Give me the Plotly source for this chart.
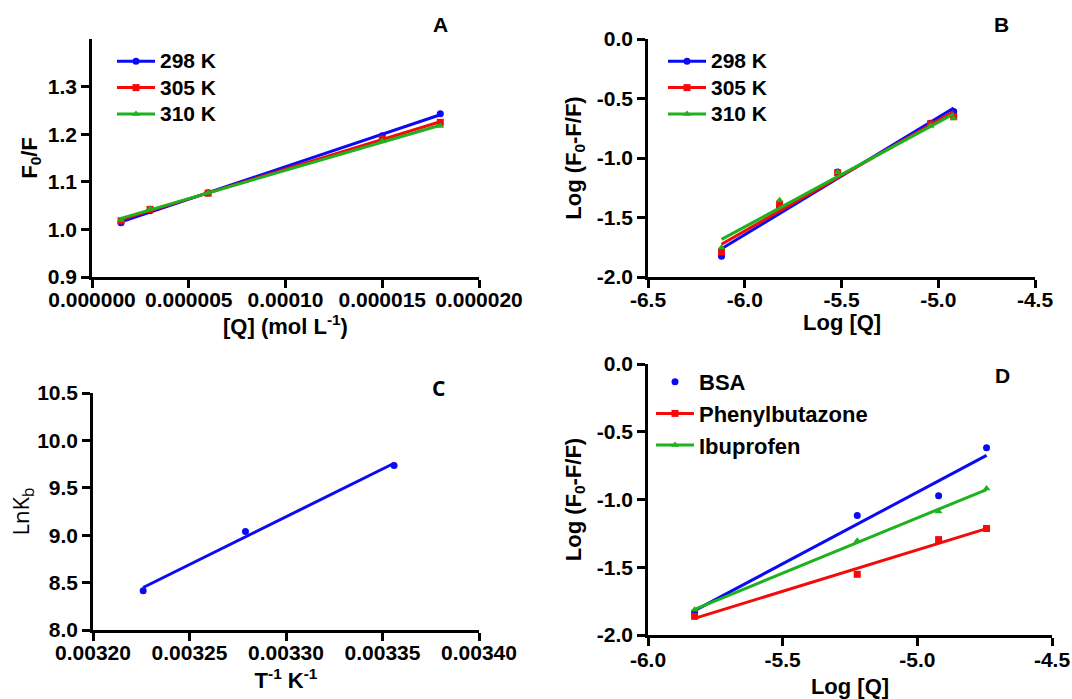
import numpy as np
import plotly.graph_objects as go

# ---------------- data ----------------
# Panel A: Stern-Volmer
A_conc = [1.5e-6, 3.0e-6, 6.0e-6, 1.5e-5, 1.8e-5]
A_298 = [1.014, 1.039, 1.077, 1.197, 1.243]
A_305 = [1.018, 1.042, 1.076, 1.190, 1.225]
A_310 = [1.020, 1.044, 1.077, 1.185, 1.217]

# Panel B: double log plot
B_logQ = [-6.12, -5.82, -5.52, -5.04, -4.92]
B_298 = [-1.826, -1.416, -1.118, -0.708, -0.610]
B_305 = [-1.790, -1.388, -1.124, -0.713, -0.652]
B_310 = [-1.753, -1.354, -1.120, -0.730, -0.669]

# Panel C: van't Hoff
C_invT = [0.003226, 0.003279, 0.003356]
C_lnKb = [8.415, 9.039, 9.736]

# Panel D: site markers
D_logQ = [-5.827, -5.223, -4.921, -4.743]
D_BSA = [-1.830, -1.118, -0.973, -0.618]
D_PBZ = [-1.862, -1.552, -1.296, -1.214]
D_IBU = [-1.813, -1.305, -1.089, -0.919]

temps = ["298 K", "305 K", "310 K"]
D_names = ["BSA", "Phenylbutazone", "Ibuprofen"]

A_xticks = [0, 5e-6, 1e-5, 1.5e-5, 2e-5]
A_xtext = ["0.000000", "0.000005", "0.00010", "0.000015", "0.000020"]
A_yticks = [0.9, 1.0, 1.1, 1.2, 1.3]
A_ytext = ["0.9", "1.0", "1.1", "1.2", "1.3"]
B_xticks = [-6.5, -6.0, -5.5, -5.0, -4.5]
B_xtext = ["-6.5", "-6.0", "-5.5", "-5.0", "-4.5"]
LOG_yticks = [0.0, -0.5, -1.0, -1.5, -2.0]
LOG_ytext = ["0.0", "-0.5", "-1.0", "-1.5", "-2.0"]
C_xticks = [0.00320, 0.00325, 0.00330, 0.00335, 0.00340]
C_xtext = ["0.00320", "0.00325", "0.00330", "0.00335", "0.00340"]
C_yticks = [8.0, 8.5, 9.0, 9.5, 10.0, 10.5]
C_ytext = ["8.0", "8.5", "9.0", "9.5", "10.0", "10.5"]
D_xticks = [-6.0, -5.5, -5.0, -4.5]
D_xtext = ["-6.0", "-5.5", "-5.0", "-4.5"]

# ---------------- style ----------------
BLUE, RED, GREEN = "#0a0af5", "#f50a0a", "#1fb21f"
COLORS = [BLUE, RED, GREEN]
SYMBOLS = ["circle", "square", "triangle-up"]
FONT = "Liberation Sans, Arial, sans-serif"
W, H = 1072, 699


def px_x(x):
    return x / W


def px_y(y):
    return 1 - y / H


fig = go.Figure()


def add_series(xs, ys, color, symbol, name, xa, ya, legend, legend_mode="lines+markers", msize=7):
    xs = np.array(xs)
    ys = np.array(ys)
    k, b = np.polyfit(xs, ys, 1)
    xf = np.array([xs.min(), xs.max()])
    fig.add_trace(go.Scatter(x=xf, y=k * xf + b, mode="lines", xaxis=xa, yaxis=ya,
                             line=dict(color=color, width=3), showlegend=False, hoverinfo="skip"))
    fig.add_trace(go.Scatter(x=xs, y=ys, mode="markers", xaxis=xa, yaxis=ya,
                             marker=dict(color=color, symbol=symbol, size=msize),
                             showlegend=False, cliponaxis=False))
    if legend is not None:
        fig.add_trace(go.Scatter(x=[None], y=[None], mode=legend_mode, name=name, legend=legend,
                                 xaxis=xa, yaxis=ya,
                                 line=dict(color=color, width=3),
                                 marker=dict(color=color, symbol=symbol, size=msize)))


def big(t):
    return '<span style="font-size:21px">' + t + '</span>'


for s, ys in enumerate([A_298, A_305, A_310]):
    add_series(A_conc, ys, COLORS[s], SYMBOLS[s], big(temps[s]), "x", "y", "legend")
for s, ys in enumerate([B_298, B_305, B_310]):
    add_series(B_logQ, ys, COLORS[s], SYMBOLS[s], big(temps[s]), "x2", "y2", "legend2")
add_series(C_invT, C_lnKb, BLUE, "circle", "C", "x3", "y3", None)
add_series(D_logQ, D_BSA, BLUE, "circle", D_names[0], "x4", "y4", "legend3", legend_mode="markers")
add_series(D_logQ, D_PBZ, RED, "square", D_names[1], "x4", "y4", "legend3")
add_series(D_logQ, D_IBU, GREEN, "triangle-up", D_names[2], "x4", "y4", "legend3")

tickfont = dict(family=FONT, size=21, color="black", weight="bold")
titlefont = dict(family=FONT, size=22, color="black", weight="bold")


def axis(domain, rng, tv, tt, title, anchor, standoff, tfont=titlefont, lab_off=0):
    return dict(domain=domain, range=rng, tickvals=tv, ticktext=tt, anchor=anchor,
                automargin=False, ticklabelstandoff=lab_off,
                showline=True, linecolor="black", linewidth=2.5, ticks="outside",
                ticklen=8, tickwidth=2.5, tickcolor="black", showgrid=False, zeroline=False,
                tickfont=tickfont, title=dict(text=title, font=tfont, standoff=standoff))


fig.update_layout(
    width=W, height=H, margin=dict(l=0, r=0, t=0, b=0),
    plot_bgcolor="white", paper_bgcolor="white",
    xaxis=axis([px_x(92), px_x(479)], [0, 2e-5], A_xticks, A_xtext,
               "[Q] (mol L<sup>-1</sup>)", "y", 5, lab_off=-6),
    yaxis=axis([px_y(277), px_y(39)], [0.9, 1.4], A_yticks, A_ytext,
               "F<sub>0</sub>/F", "x", 5),
    xaxis2=axis([px_x(648), px_x(1035)], [-6.5, -4.5], B_xticks, B_xtext,
                "", "y2", 0, lab_off=-6),
    yaxis2=axis([px_y(277), px_y(39)], [-2.0, 0.0], LOG_yticks, LOG_ytext,
                "Log (F<sub>0</sub>-F/F)", "x2", 10),
    xaxis3=axis([px_x(93), px_x(479)], [0.0032, 0.0034], C_xticks, C_xtext,
                "T<sup>-1</sup> K<sup>-1</sup>", "y3", 10, lab_off=-6),
    yaxis3=axis([px_y(630), px_y(393)], [8.0, 10.5], C_yticks, C_ytext,
                "LnK<sub>b</sub>", "x3", 2,
                tfont=dict(family="Open Sans, sans-serif", size=22, color="black")),
    xaxis4=axis([px_x(648), px_x(1052)], [-6.0, -4.5], D_xticks, D_xtext,
                "Log [Q]", "y4", 10, lab_off=-4),
    yaxis4=axis([px_y(635), px_y(364)], [-2.0, 0.0], LOG_yticks, LOG_ytext,
                "Log (F<sub>0</sub>-F/F)", "x4", 10),
    showlegend=True,
)

fig.update_layout(
    legend=dict(x=px_x(112), y=px_y(43), xanchor="left", yanchor="top", itemwidth=38,
                font=dict(family=FONT, size=18, color="black", weight="bold"),
                bgcolor="rgba(0,0,0,0)", tracegroupgap=0),
    legend2=dict(x=px_x(663), y=px_y(43), xanchor="left", yanchor="top", itemwidth=38,
                 font=dict(family=FONT, size=18, color="black", weight="bold"),
                 bgcolor="rgba(0,0,0,0)", tracegroupgap=0),
    legend3=dict(x=px_x(651), y=px_y(361), xanchor="left", yanchor="top", itemwidth=38,
                 font=dict(family=FONT, size=22, color="black", weight="bold"),
                 bgcolor="rgba(0,0,0,0)", tracegroupgap=0),
)

# x-axis title of panel B placed as text to match its tighter spacing
fig.add_annotation(text="Log [Q]", x=px_x((648 + 1035) / 2), y=px_y(322), xref="paper", yref="paper",
                   showarrow=False, xanchor="center", yanchor="middle", font=titlefont)

labels = [("A", 440, 25, FONT), ("B", 1001, 25, FONT),
          ("C", 438, 388, "Open Sans, sans-serif"), ("D", 1002, 375, FONT)]
for t, lx, ly, fam in labels:
    fig.add_annotation(text=t, x=px_x(lx), y=px_y(ly), xref="paper", yref="paper",
                       showarrow=False, xanchor="center", yanchor="middle",
                       font=dict(family=fam, size=21, color="black", weight="bold"))

fig.write_html("out.html")
